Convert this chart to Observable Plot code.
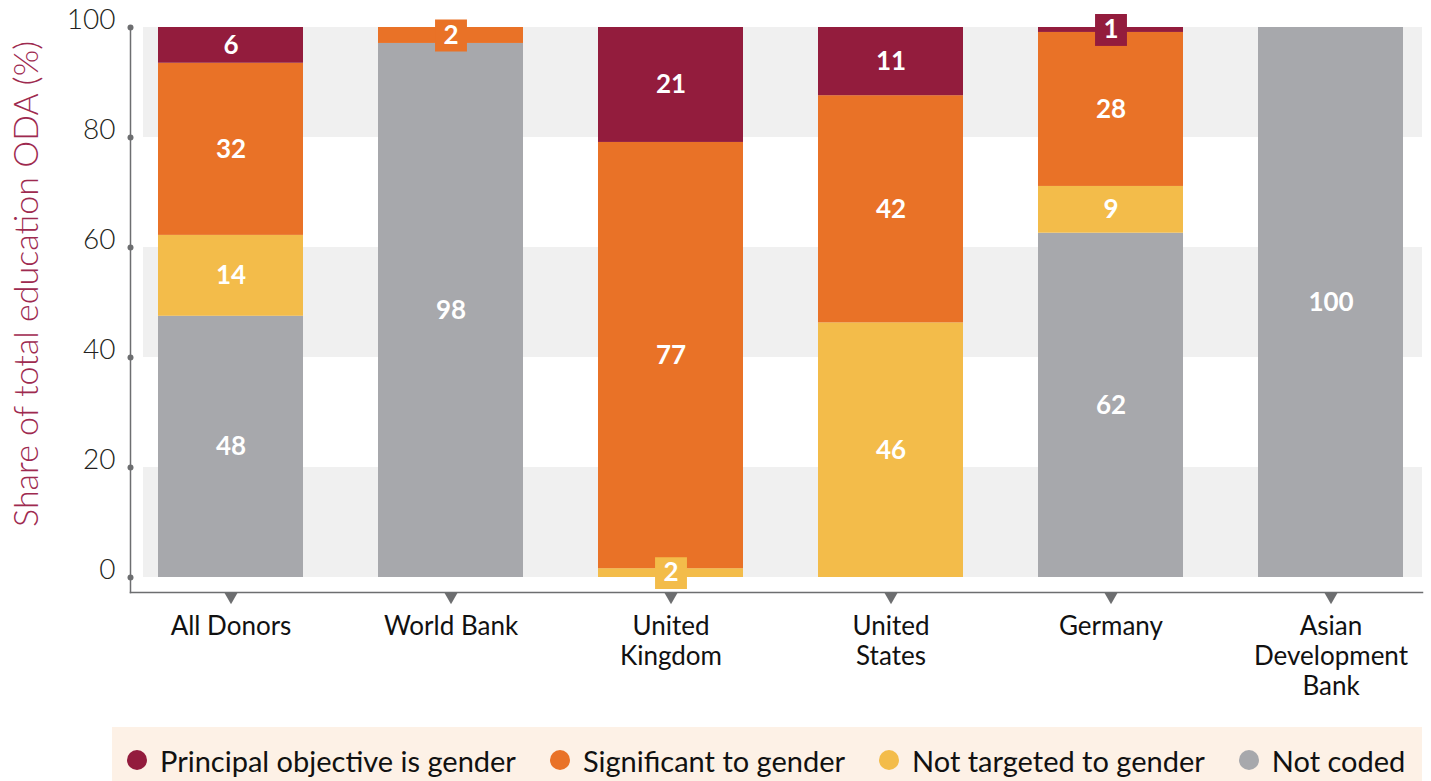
<!DOCTYPE html>
<html>
<head>
<meta charset="utf-8">
<script src="https://cdn.jsdelivr.net/npm/d3@7"></script>
<script src="https://cdn.jsdelivr.net/npm/@observablehq/plot@0.6"></script>
<style>
  html, body { margin: 0; padding: 0; background: #ffffff; overflow: hidden; }
  body { font-family: Lato, "Open Sans", sans-serif; }
  #wrap { width: 1431px; height: 781px; position: relative; }
  #legend {
    position: absolute; left: 112px; top: 727px; width: 1310px; height: 54px;
    background: #fdf1e6; display: flex; align-items: center; padding-left: 15px; padding-top: 12px; box-sizing: border-box;
    font-size: 29px; color: #111;
  }
  .item { display: flex; align-items: center; margin-right: 34px; white-space: nowrap; }
  .sw { width: 20px; height: 20px; border-radius: 50%; margin-right: 13px; }
</style>
</head>
<body>
<div id="wrap"><div id="chart"></div><div id="legend"></div></div>
<script>
// ---- data ----
const donors = ["All Donors", "World Bank", "United Kingdom", "United States", "Germany", "Asian Development Bank"];
const donorTickLabels = ["All Donors", "World Bank", "United\nKingdom", "United\nStates", "Germany", "Asian\nDevelopment\nBank"];
const categories = ["Principal objective is gender", "Significant to gender", "Not targeted to gender", "Not coded"];
const colors = ["#931c3d", "#e97227", "#f3bc4a", "#a7a8ac"];

// bar shares (%) as measured from the bars
const principal   = [6.5, 0,    20.9, 12.4, 0.9,  0];
const significant = [31.3, 2.9, 77.5, 41.3, 28.0, 0];
const notTargeted = [14.7, 0,   1.6,  46.3, 8.5,  0];
const notCoded    = [47.5, 97.1, 0,   0,    62.6, 100];

// printed labels
const principalLabels   = ["6", "", "21", "11", "1", ""];
const significantLabels = ["32", "2", "77", "42", "28", ""];
const notTargetedLabels = ["14", "", "2", "46", "9", ""];
const notCodedLabels    = ["48", "98", "", "", "62", "100"];

const yTicks = [0, 20, 40, 60, 80, 100];
const bandRanges = [[0, 20], [40, 60], [80, 100]];
const yTitle = "Share of total education ODA (%)";

// ---- build stacked rows (bottom to top) ----
const stackOrder = [
  [categories[3], notCoded, notCodedLabels],
  [categories[2], notTargeted, notTargetedLabels],
  [categories[1], significant, significantLabels],
  [categories[0], principal, principalLabels]
];
const rows = [];
donors.forEach((donor, i) => {
  let base = 0;
  for (const [cat, vals, labs] of stackOrder) {
    const v = vals[i];
    if (v > 0) rows.push({donor, category: cat, y1: base, y2: base + v, mid: base + v / 2, value: v, label: labs[i]});
    base += v;
  }
});
const labelled = rows.filter(d => d.label !== "");
const smallOnes = labelled.filter(d => d.value < 5);

const chart = Plot.plot({
  width: 1431,
  height: 720,
  marginLeft: 130,
  marginRight: 9,
  marginTop: 27,
  marginBottom: 128,
  style: {fontFamily: "Lato, 'Open Sans', sans-serif", background: "transparent"},
  x: {domain: donors, range: [157, 1403], paddingInner: 0.341, paddingOuter: 0, axis: null},
  y: {domain: [0, 100], range: [577, 27], axis: null},
  color: {domain: categories, range: colors},
  marks: [
    Plot.rect(bandRanges, {y1: d => d[0], y2: d => d[1], fill: "#f0f0f0", insetLeft: 13}),
    Plot.barY(rows, {x: "donor", y1: "y1", y2: "y2", fill: "category"}),
    Plot.dot(smallOnes, {x: "donor", y: "mid", symbol: "square", r: 18, fill: "category", stroke: null}),
    Plot.text(labelled, {x: "donor", y: "mid", text: "label", fill: "white", fontSize: 26, fontWeight: "bold"}),
    Plot.frame({anchor: "left", stroke: "#6d6e70", strokeWidth: 1.5}),
    Plot.frame({anchor: "bottom", stroke: "#6d6e70", strokeWidth: 1.5}),
    Plot.dot(yTicks, {y: d => d, frameAnchor: "left", r: 3, fill: "#6d6e70", stroke: null}),
    Plot.text(yTicks, {y: d => d, text: d => String(d), frameAnchor: "left", textAnchor: "end", dx: -15, dy: -7, fontSize: 28, fontWeight: 300, fill: "#231f20"}),
    Plot.dot(donors, {x: d => d, frameAnchor: "bottom", symbol: "triangle", rotate: 180, r: 5, fill: "#6d6e70", stroke: null, dy: 4}),
    Plot.text(donors, {x: d => d, text: (d, i) => donorTickLabels[i], frameAnchor: "bottom", lineAnchor: "top", dy: 21, fontSize: 26, lineHeight: 1.15, fill: "#111"}),
    Plot.text([yTitle], {text: d => d, frameAnchor: "left", textAnchor: "middle", rotate: -90, dx: -103, dy: -26, fontSize: 34, fontWeight: 300, fill: "#9e2a4f"})
  ]
});
document.getElementById("chart").appendChild(chart);

// legend
const legend = document.getElementById("legend");
categories.forEach((c, i) => {
  const it = document.createElement("div");
  it.className = "item";
  const sw = document.createElement("span");
  sw.className = "sw";
  sw.style.background = colors[i];
  const tx = document.createElement("span");
  tx.textContent = c;
  it.appendChild(sw); it.appendChild(tx);
  legend.appendChild(it);
});
</script>
</body>
</html>
